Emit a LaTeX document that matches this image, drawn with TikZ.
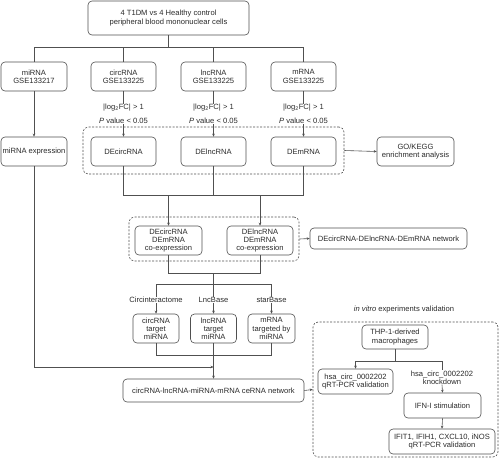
\documentclass[tikz,border=0pt]{standalone}
\usepackage{fontspec}
\setmainfont{Liberation Sans}
\usetikzlibrary{arrows.meta}
\definecolor{linec}{HTML}{505050}
\definecolor{textc}{HTML}{2A2A2A}
\begin{document}
\begin{tikzpicture}[x=1pt,y=-1pt,
  every node/.style={text=textc,font=\fontsize{7.6}{8.2}\selectfont,inner sep=0pt,align=center},
  box/.style={draw=linec,line width=0.6pt,rounded corners=4pt,minimum width=#1},
  dbox/.style={draw=linec,line width=0.6pt,dashed,dash pattern=on 2pt off 1.5pt,rounded corners=5pt},
  conn/.style={draw=linec,line width=0.6pt},
  arr/.style={conn,-{Stealth[length=3pt,width=2.6pt]}}]
\useasboundingbox (0,0) rectangle (500,459);
% top
\node[box=161pt,minimum height=34pt] (top) at (168.5,18) {4 T1DM vs 4 Healthy control\\peripheral blood mononuclear cells};
\node[box=66pt,minimum height=29pt] (mi) at (34,76.5) {miRNA\\GSE133217};
\node[box=65pt,minimum height=29pt] (circ) at (123.5,76.5) {circRNA\\GSE133225};
\node[box=65pt,minimum height=29pt] (lnc) at (213.5,76.5) {lncRNA\\GSE133225};
\node[box=65pt,minimum height=29pt] (mrna) at (303.5,76.5) {mRNA\\GSE133225};
% criteria
\node (ca1) at (123.5,108) {|log\textsubscript{2}FC| > 1};
\node (cb1) at (123.5,121) {\textit{P} value < 0.05};
\node (ca2) at (213.5,108) {|log\textsubscript{2}FC| > 1};
\node (cb2) at (213.5,121) {\textit{P} value < 0.05};
\node (ca3) at (303.5,108) {|log\textsubscript{2}FC| > 1};
\node (cb3) at (303.5,121) {\textit{P} value < 0.05};
% DE
\node[dbox,minimum width=261pt,minimum height=47pt] (d1) at (213.5,150.5) {};
\node[box=66pt,minimum height=29pt] (miexp) at (34,151.5) {miRNA expression};
\node[box=65pt,minimum height=29pt] (dec) at (123.5,151.5) {DEcircRNA};
\node[box=65pt,minimum height=29pt] (del) at (213.5,151.5) {DElncRNA};
\node[box=65pt,minimum height=29pt] (dem) at (303.5,151.5) {DEmRNA};
\node[box=77pt,minimum height=29pt] (go) at (415.5,151.5) {GO/KEGG\\enrichment analysis};
% co-expression
\node[dbox,minimum width=170pt,minimum height=44pt] (d2) at (214,239) {};
\node[box=67pt,minimum height=29pt] (co1) at (168.5,240.5) {DEcircRNA\\DEmRNA\\co-expression};
\node[box=66pt,minimum height=29pt] (co2) at (260,240.5) {DElncRNA\\DEmRNA\\co-expression};
\node[box=157pt,minimum height=21pt] (net) at (388.5,238.5) {DEcircRNA-DElncRNA-DEmRNA network};
% databases
\node (l1) at (156,300) {Circinteractome};
\node (l2) at (213.5,300) {LncBase};
\node (l3) at (271.5,300) {starBase};
\node[box=46pt,minimum height=29pt] (t1) at (156,328.5) {circRNA\\target\\miRNA};
\node[box=46pt,minimum height=29pt] (t2) at (213.5,328.5) {lncRNA\\target\\miRNA};
\node[box=47pt,minimum height=29pt] (t3) at (271.5,328.5) {mRNA\\targeted by\\miRNA};
\node[box=181pt,minimum height=23pt] (ce) at (213.5,390.5) {circRNA-lncRNA-miRNA-mRNA ceRNA network};
% in vitro
\node (iv) at (404,310) {\textit{in vitro} experiments validation};
\node[dbox,minimum width=185pt,minimum height=135pt] (d3) at (405.5,389.5) {};
\node[box=66pt,minimum height=24pt] (thp) at (395,337) {THP-1-derived\\macrophages};
\node[box=75pt,minimum height=25pt] (hsa) at (355.5,381.5) {hsa\_circ\_0002202\\qRT-PCR validation};
\node (kd) at (442,377.5) {hsa\_circ\_0002202\\knockdown};
\node[box=77pt,minimum height=25pt] (ifn) at (442.5,405.5) {IFN-I stimulation};
\node[box=106pt,minimum height=25pt] (ifit) at (442,441.5) {IFIT1, IFIH1, CXCL10, iNOS\\qRT-PCR validation};
% connectors top
\coordinate (j1) at (168.5,47);
\draw[conn] (top.south) -- (j1);
\draw[conn] (mi.north) -- (mi.north|-j1) -- (mrna.north|-j1) -- (mrna.north);
\draw[conn] (circ.north) -- (circ.north|-j1);
\draw[conn] (lnc.north) -- (lnc.north|-j1);
\draw[conn] (circ.south) -- (ca1.north);
\draw[conn] (lnc.south) -- (ca2.north);
\draw[conn] (mrna.south) -- (ca3.north);
\draw[arr] (cb1.south) -- (dec.north);
\draw[arr] (cb2.south) -- (del.north);
\draw[arr] (cb3.south) -- (dem.north);
\draw[arr] (mi.south) -- (miexp.north);
\draw[arr] (d1.east) -- (go.west);
% to co-expression
\coordinate (j2) at (213.5,195);
\draw[conn] (dec.south) -- (dec.south|-j2) -- (dem.south|-j2) -- (dem.south);
\draw[conn] (del.south) -- (j2);
\draw[arr] (co1.north|-j2) -- (co1.north);
\draw[arr] (co2.north|-j2) -- (co2.north);
\draw[arr] (d2.east) -- (net.west);
% to databases
\coordinate (j3) at (213.5,273);
\coordinate (j4) at (213.5,284);
\draw[conn] (co1.south) -- (co1.south|-j3) -- (co2.south|-j3) -- (co2.south);
\draw[conn] (j3) -- (j4);
\draw[conn] (l1.north) -- (l1.north|-j4) -- (l3.north|-j4) -- (l3.north);
\draw[conn] (j4) -- (l2.north);
\draw[arr] (l1.south) -- (t1.north);
\draw[arr] (l2.south) -- (t2.north);
\draw[arr] (l3.south) -- (t3.north);
% to ceRNA
\coordinate (j5) at (213.5,355);
\coordinate (j6) at (213.5,367);
\draw[conn] (t1.south) -- (t1.south|-j5) -- (t3.south|-j5) -- (t3.south);
\draw[conn] (t2.south) -- (j5);
\draw[arr] (j5) -- (ce.north);
\draw[arr] (miexp.south) -- (miexp.south|-j6) -- (j6);
\draw[arr] (ce.east) -- (d3.west);
% in vitro
\coordinate (j7) at (395,361);
\draw[conn] (thp.south) -- (j7);
\draw[conn] (hsa.north|-j7) -- (kd.north|-j7) -- (kd.north);
\draw[arr] (hsa.north|-j7) -- (hsa.north);
\draw[arr] (kd.south) -- (ifn.north);
\draw[arr] (ifn.south) -- (ifit.north);
\end{tikzpicture}
\end{document}
